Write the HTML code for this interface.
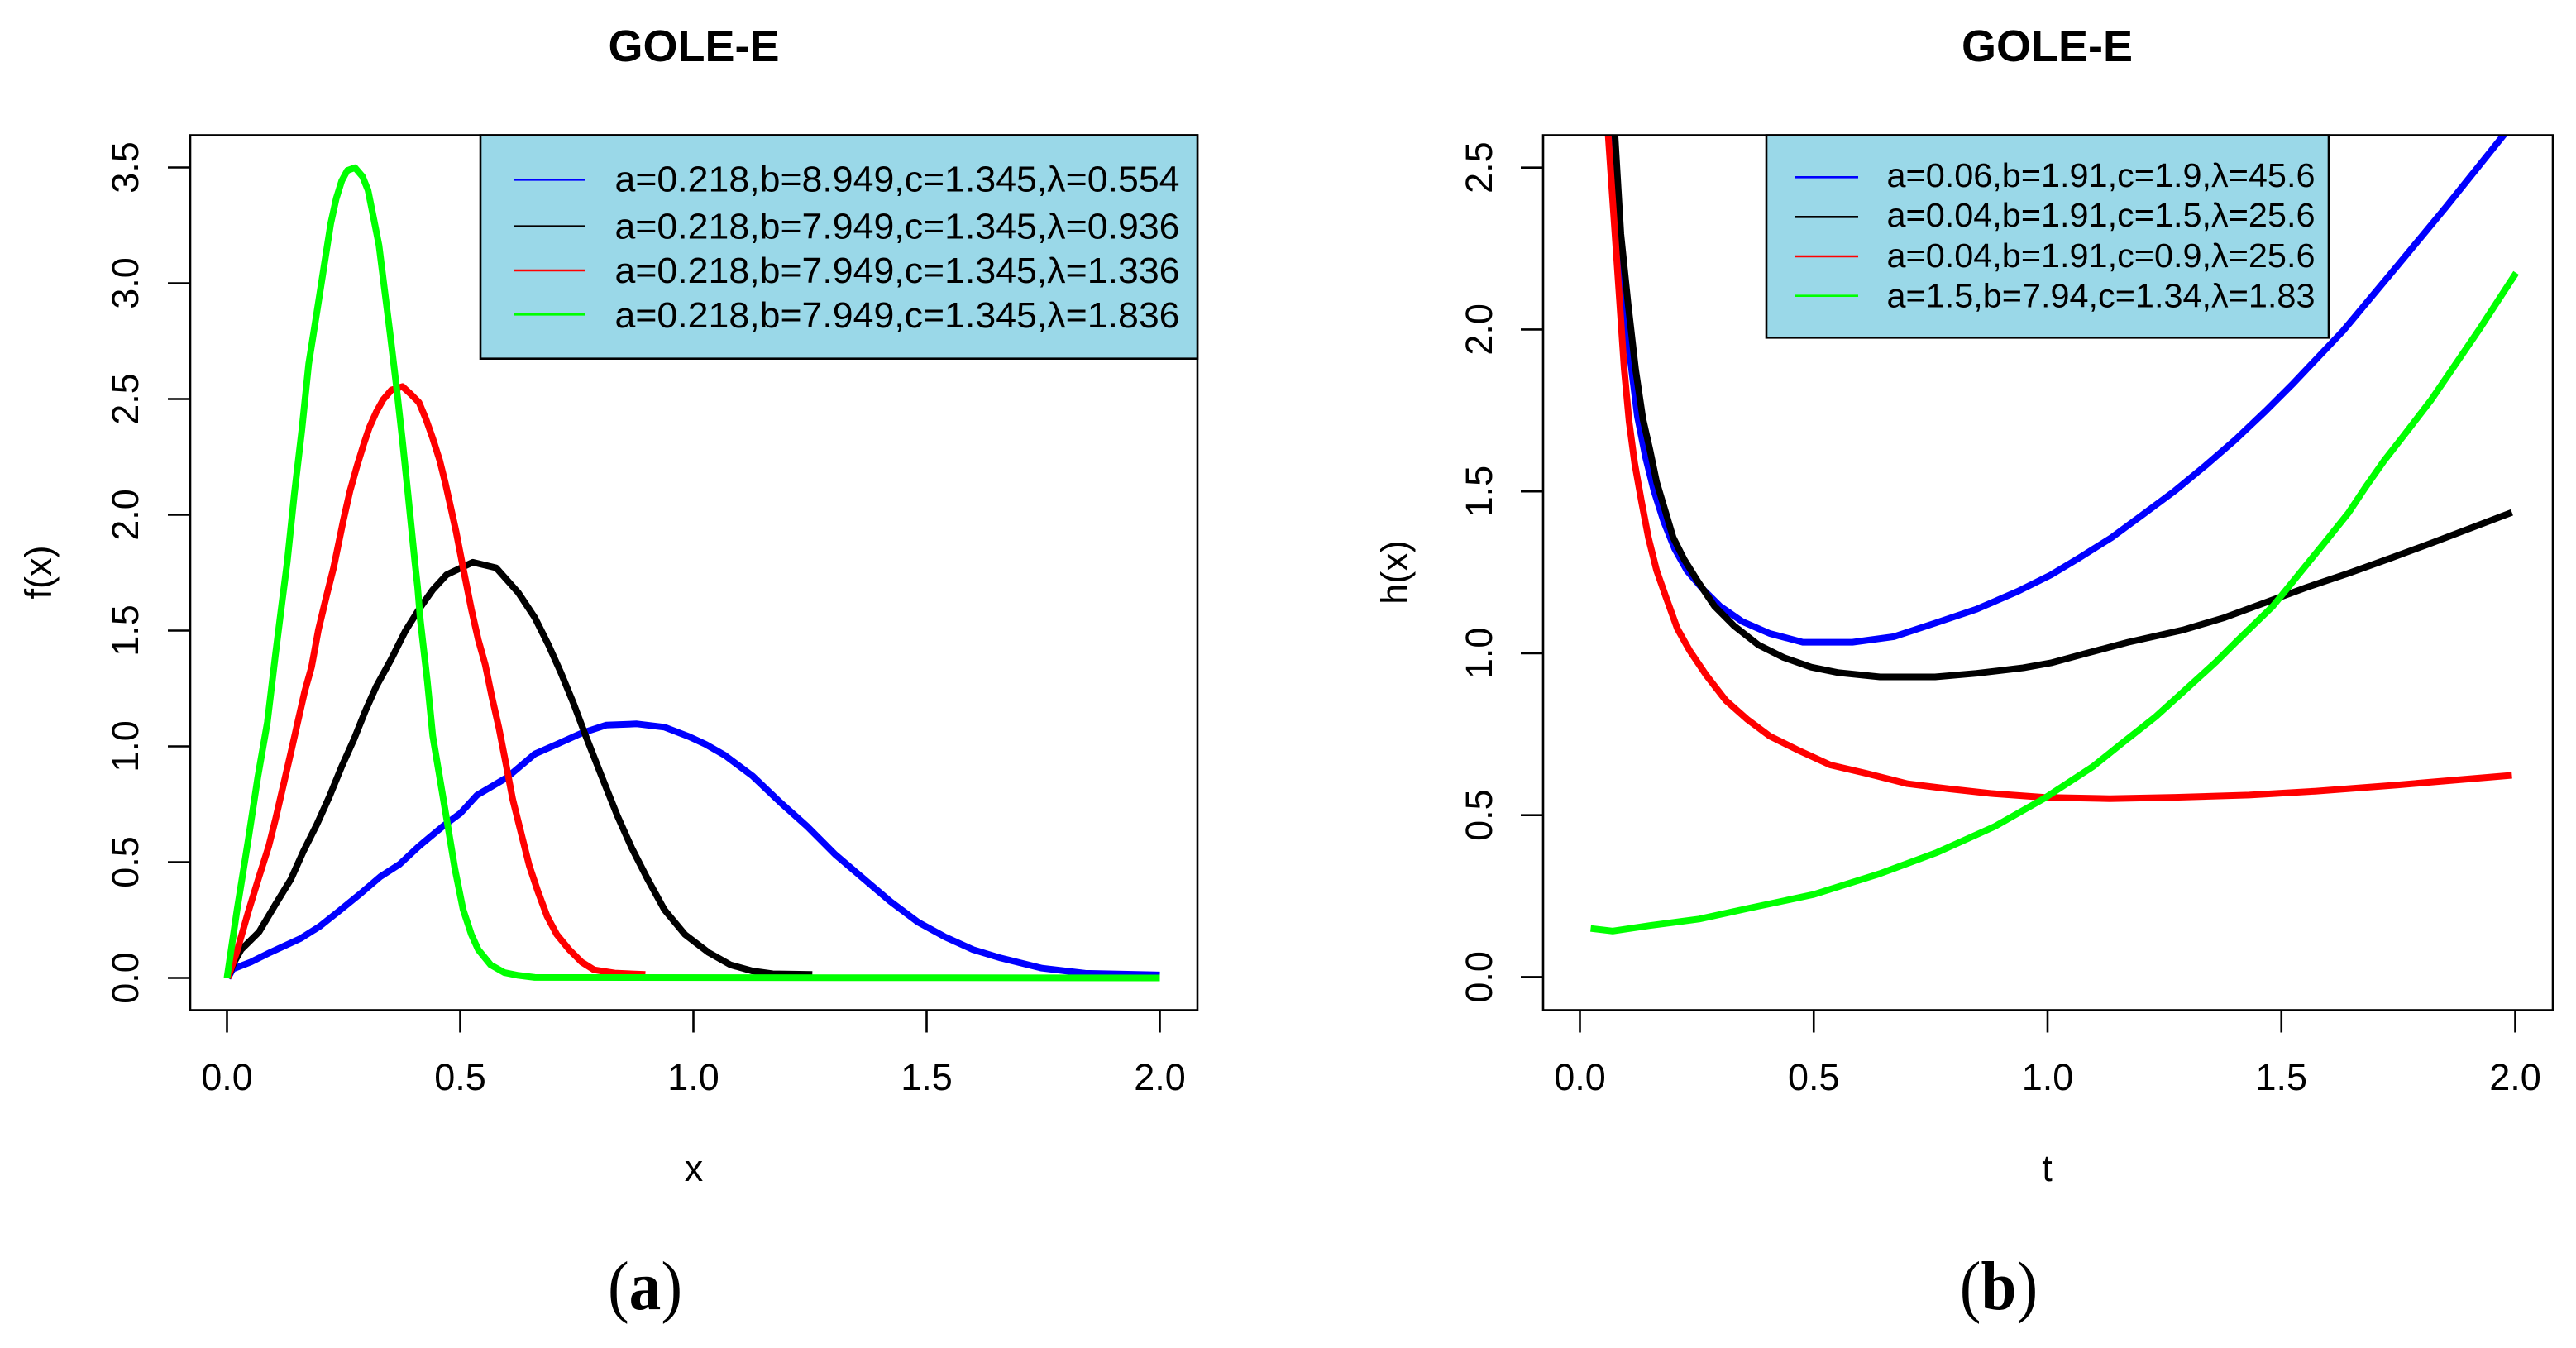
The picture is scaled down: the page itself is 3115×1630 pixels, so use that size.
<!DOCTYPE html>
<html lang="en">
<head>
<meta charset="utf-8">
<title>GOLE-E density and hazard curves</title>
<style>
html,body{margin:0;padding:0;background:#fff;}
svg{display:block;}
text{font-family:"Liberation Sans",sans-serif;fill:#000;}
</style>
</head>
<body>
<svg id="figure" xmlns="http://www.w3.org/2000/svg" width="3115" height="1630" viewBox="0 0 3115 1630">
<rect width="3115" height="1630" fill="#fff"/>
<defs>
<clipPath id="clip-a"><rect x="230" y="163.5" width="1218" height="1058"/></clipPath>
<clipPath id="clip-b"><rect x="1866" y="163.5" width="1221" height="1058"/></clipPath>
</defs>
<text transform="translate(780,1583) scale(0.92,1)" text-anchor="middle" font-size="84" style="font-family:'Liberation Serif',serif">(<tspan font-weight="bold">a</tspan>)</text>
<text transform="translate(2417,1583) scale(0.92,1)" text-anchor="middle" font-size="84" style="font-family:'Liberation Serif',serif">(<tspan font-weight="bold">b</tspan>)</text>
</svg>
<script>
// Shared axis tick labels
const xTicks = [0, 0.5, 1, 1.5, 2];
const yTicksA = [0, 0.5, 1, 1.5, 2, 2.5, 3, 3.5];
const yTicksB = [0, 0.5, 1, 1.5, 2, 2.5];
const seriesColors = ['#0000ff', '#000000', '#ff0000', '#00ff00'];
const seriesKeys = ['blue', 'black', 'red', 'green'];

// Panel (a): f(x)
const aBlueX = [0.002,0.0127,0.0511,0.0925,0.1575,0.1989,0.2402,0.2875,0.3289,0.3702,0.4117,0.4648,0.5003,0.5358,0.6007,0.6599,0.7071,0.7603,0.8135,0.8786,0.9377,0.9908,1.0263,1.0677,1.1268,1.1858,1.245,1.3041,1.3631,1.4223,1.4814,1.5404,1.5996,1.6587,1.7473,1.84,2.0];
const aBlueY = [0,0.039,0.0685,0.11,0.17,0.223,0.289,0.366,0.4375,0.491,0.569,0.658,0.711,0.789,0.866,0.967,1.009,1.057,1.092,1.097,1.083,1.042,1.009,0.961,0.872,0.759,0.652,0.533,0.4315,0.33,0.241,0.176,0.122,0.086,0.042,0.02,0.013];
const aBlackX = [0.002,0.0156,0.0304,0.0688,0.1043,0.1368,0.1634,0.1929,0.2195,0.2461,0.2727,0.2964,0.32,0.3525,0.3821,0.4117,0.4411,0.4707,0.5269,0.5771,0.6244,0.6599,0.6894,0.716,0.7426,0.7692,0.8017,0.8372,0.868,0.9022,0.9377,0.982,1.0322,1.0795,1.1268,1.17,1.255];
const aBlackY = [0,0.0685,0.122,0.199,0.3185,0.4257,0.545,0.664,0.783,0.914,1.033,1.152,1.259,1.378,1.497,1.592,1.676,1.741,1.795,1.771,1.664,1.556,1.4375,1.318,1.1875,1.045,0.878,0.699,0.56,0.4257,0.2946,0.1875,0.11,0.0565,0.03,0.018,0.015];
const aRedX = [0.002,0.0216,0.0452,0.0688,0.0895,0.1043,0.122,0.1368,0.1516,0.1663,0.1812,0.1959,0.2137,0.2284,0.2491,0.2638,0.2787,0.2934,0.3053,0.32,0.3348,0.3525,0.3762,0.3939,0.4117,0.4264,0.4411,0.456,0.4677,0.4796,0.4914,0.5062,0.5239,0.5387,0.5535,0.5683,0.583,0.5978,0.6126,0.6303,0.648,0.6658,0.6865,0.7071,0.7337,0.7603,0.7869,0.8312,0.897];
const aRedY = [0,0.116,0.283,0.4375,0.569,0.6875,0.842,0.973,1.104,1.235,1.342,1.503,1.652,1.77,1.973,2.104,2.211,2.307,2.378,2.444,2.497,2.539,2.554,2.521,2.485,2.414,2.33,2.235,2.14,2.033,1.926,1.771,1.592,1.461,1.354,1.211,1.08,0.926,0.771,0.628,0.485,0.378,0.265,0.1875,0.122,0.0685,0.035,0.021,0.015];
const aGreenX = [0,0.0216,0.0452,0.0659,0.0866,0.1043,0.1191,0.129,0.1445,0.1605,0.1752,0.1929,0.2077,0.2225,0.2343,0.2461,0.258,0.2745,0.2905,0.3023,0.3141,0.3259,0.3378,0.3496,0.3631,0.3762,0.388,0.4028,0.4087,0.4146,0.4294,0.4412,0.456,0.4737,0.4885,0.5062,0.5239,0.5387,0.5653,0.5949,0.6244,0.66,2.0];
const aGreenY = [0,0.295,0.592,0.866,1.104,1.402,1.64,1.795,2.092,2.366,2.652,2.878,3.068,3.259,3.366,3.443,3.487,3.499,3.461,3.402,3.283,3.164,2.973,2.783,2.556,2.319,2.092,1.795,1.688,1.545,1.283,1.045,0.866,0.652,0.473,0.295,0.1875,0.122,0.0565,0.023,0.011,0.002,0];
const aLegend = ['a=0.218,b=8.949,c=1.345,λ=0.554','a=0.218,b=7.949,c=1.345,λ=0.936','a=0.218,b=7.949,c=1.345,λ=1.336','a=0.218,b=7.949,c=1.345,λ=1.836'];

// Panel (b): h(x)
const bBlueX = [0.06,0.08,0.1,0.1229,0.1406,0.1583,0.1789,0.2025,0.229,0.2644,0.2997,0.3469,0.4058,0.4766,0.5827,0.6711,0.7595,0.8479,0.9363,1.0071,1.066,1.1367,1.2016,1.2723,1.3372,1.402,1.4668,1.5257,1.5847,1.632,1.747,1.853,1.975,2.0];
const bBlueY = [2.75,2.3,2.0,1.732,1.604,1.502,1.408,1.323,1.255,1.196,1.145,1.098,1.061,1.034,1.034,1.051,1.093,1.136,1.191,1.242,1.293,1.357,1.426,1.502,1.579,1.66,1.749,1.834,1.924,1.996,2.195,2.38,2.6,2.65];
const bBlackX = [0.068,0.075,0.0875,0.103,0.119,0.1347,0.1494,0.1641,0.1818,0.1995,0.2231,0.2525,0.2879,0.3292,0.3823,0.4353,0.4943,0.5532,0.6416,0.7595,0.8479,0.9481,1.0071,1.0837,1.172,1.29,1.3784,1.4668,1.5553,1.6437,1.7321,1.8205,1.993];
const bBlackY = [2.75,2.6,2.295,2.08,1.877,1.723,1.63,1.528,1.443,1.357,1.289,1.221,1.145,1.085,1.025,0.987,0.957,0.94,0.927,0.927,0.938,0.955,0.97,1.0,1.034,1.072,1.11,1.157,1.204,1.247,1.293,1.34,1.435];
const bRedX = [0.055,0.0605,0.075,0.0947,0.1052,0.117,0.1317,0.1464,0.1641,0.1848,0.2083,0.2348,0.2702,0.3115,0.3586,0.4058,0.4647,0.5355,0.6122,0.7006,0.789,0.8774,0.992,1.133,1.273,1.431,1.572,1.747,1.993];
const bRedY = [2.75,2.6,2.295,1.877,1.715,1.587,1.468,1.357,1.255,1.17,1.076,1.008,0.932,0.855,0.795,0.744,0.702,0.655,0.629,0.597,0.581,0.567,0.555,0.551,0.555,0.562,0.574,0.593,0.623];
const bGreenX = [0.023,0.07,0.149,0.255,0.36,0.5,0.641,0.764,0.887,0.992,1.097,1.1603,1.2311,1.29,1.3608,1.4079,1.4815,1.5434,1.5965,1.6437,1.679,1.7203,1.7615,1.8205,1.923,2.002];
const bGreenY = [0.15,0.142,0.159,0.179,0.212,0.255,0.319,0.385,0.465,0.551,0.65,0.723,0.804,0.881,0.974,1.042,1.145,1.255,1.349,1.434,1.511,1.596,1.672,1.783,2.0,2.175];
const bLegend = ['a=0.06,b=1.91,c=1.9,λ=45.6','a=0.04,b=1.91,c=1.5,λ=25.6','a=0.04,b=1.91,c=0.9,λ=25.6','a=1.5,b=7.94,c=1.34,λ=1.83'];

const NS = 'http://www.w3.org/2000/svg';
const fig = document.getElementById('figure');

function make(tag, attrs, parent) {
  const el = document.createElementNS(NS, tag);
  for (const k in attrs) el.setAttribute(k, attrs[k]);
  parent.appendChild(el);
  return el;
}

function drawPanel(p) {
  const sx = v => p.x0 + p.xUnit * v;
  const sy = v => p.y0 - p.yUnit * v;
  const g = make('g', {}, fig);
  
  

  // Curves
  const lines = make('g', {'clip-path': 'url(#clip-' + p.id + ')'}, g);
  p.series.forEach((s, i) => {
    const pts = s.xs.map((x, j) => sx(x).toFixed(1) + ',' + sy(s.ys[j]).toFixed(1)).join(' ');
    const line = make('polyline', {points: pts, fill: 'none', stroke: seriesColors[i], 'stroke-width': 8, 'stroke-linejoin': 'round', 'stroke-linecap': 'butt'}, lines);
    
    
  });

  // Frame
  const frame = make('rect', {x: p.left, y: p.top, width: p.right - p.left, height: p.bottom - p.top, fill: 'none', stroke: '#000', 'stroke-width': 2.6}, g);
  
  

  // X axis
  xTicks.forEach(v => {
    const t = make('line', {x1: sx(v), x2: sx(v), y1: p.bottom, y2: p.bottom + 27, stroke: '#000', 'stroke-width': 2.6}, g);
    
    
    const l = make('text', {x: sx(v), y: 1318, 'text-anchor': 'middle', 'font-size': 45}, g);
    
    
    l.textContent = v.toFixed(1);
  });

  // Y axis
  p.yTicks.forEach(v => {
    const t = make('line', {x1: p.left - 27, x2: p.left, y1: sy(v), y2: sy(v), stroke: '#000', 'stroke-width': 2.6}, g);
    
    
    const l = make('text', {x: 0, y: 0, 'text-anchor': 'middle', 'font-size': 45, transform: 'translate(' + p.yLabelX + ',' + sy(v) + ') rotate(-90)'}, g);
    
    
    l.textContent = v.toFixed(1);
  });

  // Titles
  const title = make('text', {x: p.cx, y: 74, 'text-anchor': 'middle', 'font-size': 54, 'font-weight': 'bold'}, g);
  
  
  title.textContent = p.title;

  const xt = make('text', {x: p.cx, y: 1428, 'text-anchor': 'middle', 'font-size': 45}, g);
  
  
  xt.textContent = p.xLabel;

  const yt = make('text', {x: 0, y: 0, 'text-anchor': 'middle', 'font-size': 45, transform: 'translate(' + p.yTitleX + ',692) rotate(-90)'}, g);
  
  
  yt.textContent = p.yLabel;

  // Legend
  const lg = make('g', {}, g);
  
  
  const L = p.legend;
  const box = make('rect', {x: L.left, y: p.top, width: L.right - L.left, height: L.bottom - p.top, fill: '#9ad8e8', stroke: '#000', 'stroke-width': 2.6}, lg);
  
  
  L.labels.forEach((txt, i) => {
    const ln = make('line', {x1: L.x1, x2: L.x2, y1: L.lineY[i], y2: L.lineY[i], stroke: seriesColors[i], 'stroke-width': 2.6}, lg);
    
    
    const tx = make('text', {x: L.textX, y: L.textY[i], 'font-size': L.size, textLength: L.textW, lengthAdjust: 'spacingAndGlyphs'}, lg);
    
    
    tx.textContent = txt;
  });
}

drawPanel({
  id: 'a', title: 'GOLE-E', xLabel: 'x', yLabel: 'f(x)',
  x0: 274.5, xUnit: 564, y0: 1182.5, yUnit: 280,
  left: 230, right: 1448, top: 163.5, bottom: 1221.5, cx: 839,
  yLabelX: 167, yTitleX: 62, yTicks: yTicksA,
  series: [{xs: aBlueX, ys: aBlueY}, {xs: aBlackX, ys: aBlackY}, {xs: aRedX, ys: aRedY}, {xs: aGreenX, ys: aGreenY}],
  legend: {left: 581, right: 1448, bottom: 433.7, x1: 622, x2: 707, textX: 743.5, textW: 683, size: 44,
    labels: aLegend, lineY: [217.3, 273.7, 327, 380.3], textY: [231.3, 288.5, 342, 396]}
});

drawPanel({
  id: 'b', title: 'GOLE-E', xLabel: 't', yLabel: 'h(x)',
  x0: 1910.5, xUnit: 565.5, y0: 1181.4, yUnit: 391.5,
  left: 1866, right: 3087, top: 163.5, bottom: 1221.5, cx: 2475.5,
  yLabelX: 1804, yTitleX: 1702, yTicks: yTicksB,
  series: [{xs: bBlueX, ys: bBlueY}, {xs: bBlackX, ys: bBlackY}, {xs: bRedX, ys: bRedY}, {xs: bGreenX, ys: bGreenY}],
  legend: {left: 2136, right: 2816, bottom: 408.3, x1: 2171, x2: 2247, textX: 2281.5, textW: 518, size: 41,
    labels: bLegend, lineY: [214.3, 262.3, 310, 357.7], textY: [226, 274, 323, 371.5]}
});
</script>
</body>
</html>
